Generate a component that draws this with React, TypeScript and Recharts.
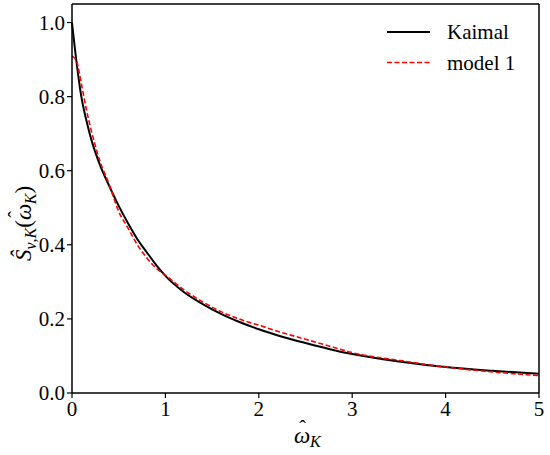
import React from "react";
import { LineChart, Line, XAxis, YAxis, ReferenceLine } from "recharts";

// non-dimensional frequency samples
const omega = [0, 0.05, 0.1, 0.15, 0.2, 0.3, 0.4, 0.5, 0.6, 0.7, 0.8, 0.9, 1.0, 1.2, 1.4, 1.6, 1.8, 2.0, 2.25, 2.5, 2.75, 3.0, 3.5, 4.0, 4.5, 5.0];
const kaimal = [1.0, 0.89, 0.8, 0.74, 0.69, 0.615, 0.558, 0.505, 0.458, 0.415, 0.38, 0.346, 0.316, 0.272, 0.24, 0.213, 0.191, 0.172, 0.152, 0.135, 0.119, 0.105, 0.085, 0.07, 0.06, 0.052];
const model1 = [0.91, 0.895, 0.835, 0.77, 0.715, 0.625, 0.562, 0.49, 0.445, 0.4, 0.365, 0.337, 0.318, 0.278, 0.246, 0.219, 0.199, 0.183, 0.163, 0.145, 0.127, 0.109, 0.088, 0.07, 0.057, 0.047];
const xTicks = [0, 1, 2, 3, 4, 5];
const yTicks = [0, 0.2, 0.4, 0.6, 0.8, 1.0];

const data = omega.map((w, i) => ({ w, kaimal: kaimal[i], model1: model1[i] }));

const FONT = "'Liberation Serif', 'DejaVu Serif', serif";
const tickStyle = { fill: "#000", fontSize: 21, fontFamily: FONT };

function XLabel() {
  return (
    <text x={294} y={443} fontFamily={FONT} fill="#000" fontSize={23} fontStyle="italic">
      {"\u03C9"}
      <tspan dx={-11} dy={-8} fontSize={20} fontStyle="normal">{"\u02C6"}</tspan>
      <tspan dx={4} dy={12} fontSize={16}>K</tspan>
    </text>
  );
}

function YLabel() {
  return (
    <text
      x={0}
      y={0}
      transform="translate(31 213) rotate(-90) translate(-48 0)"
      fontFamily={FONT}
      fill="#000"
      fontSize={23}
    >
      <tspan fontStyle="italic">{"\u015C"}</tspan>
      <tspan fontStyle="italic" fontSize={16} dy={5}>v</tspan>
      <tspan fontSize={16}>,</tspan>
      <tspan fontStyle="italic" fontSize={16}>K</tspan>
      <tspan dy={-5}>(</tspan>
      <tspan fontStyle="italic">{"\u03C9"}</tspan>
      <tspan dx={-14} dy={-8} fontSize={20}>{"\u02C6"}</tspan>
      <tspan fontStyle="italic" fontSize={16} dx={7} dy={13}>K</tspan>
      <tspan dy={-5}>)</tspan>
    </text>
  );
}

const legendRows = [
  { name: "Kaimal", color: "#000", dash: undefined, width: 2 },
  { name: "model 1", color: "#ff0000", dash: "5 2.5", width: 1.6 },
];

function LegendBox() {
  return (
    <svg width={150} height={64} style={{ position: "absolute", left: 385, top: 15 }}>
      {legendRows.map((r, i) => (
        <g key={r.name} transform={`translate(0 ${i * 30.5})`}>
          <line x1={2} x2={45} y1={17} y2={17} stroke={r.color} strokeWidth={r.width} strokeDasharray={r.dash} />
          <text x={62} y={24} fontFamily={FONT} fontSize={21} fill="#000">
            {r.name}
          </text>
        </g>
      ))}
    </svg>
  );
}

export default function App() {
  return (
    <div style={{ position: "absolute", left: 0, top: 0, width: 550, height: 455, background: "#fff" }}>
      <LineChart width={550} height={455} data={data} margin={{ top: 4, right: 11, left: 0, bottom: 0 }}>
        <XAxis
          dataKey="w"
          type="number"
          domain={[0, 5]}
          ticks={xTicks}
          height={62}
          axisLine={{ stroke: "#000", strokeWidth: 1.5 }}
          tickLine={{ stroke: "#000", strokeWidth: 1.2 }}
          tickSize={5}
          tickMargin={3}
          tick={tickStyle}
          label={{ content: () => <XLabel /> }}
        />
        <YAxis
          type="number"
          domain={[0, 1.05]}
          ticks={yTicks}
          width={72}
          allowDataOverflow
          axisLine={{ stroke: "#000", strokeWidth: 1.5 }}
          tickLine={{ stroke: "#000", strokeWidth: 1.2 }}
          tickSize={5}
          tickMargin={2}
          tick={tickStyle}
          tickFormatter={(v: number) => v.toFixed(1)}
          label={{ content: () => <YLabel /> }}
        />
        <ReferenceLine y={1.05} stroke="#000" strokeWidth={1.5} />
        <ReferenceLine x={5} stroke="#000" strokeWidth={1.5} />
        <Line
          type="monotone"
          dataKey="kaimal"
          stroke="#000"
          strokeWidth={2}
          dot={false}
          isAnimationActive={false}
        />
        <Line
          type="monotone"
          dataKey="model1"
          stroke="#ff0000"
          strokeWidth={1.6}
          strokeDasharray="5 2.5"
          dot={false}
          isAnimationActive={false}
        />
      </LineChart>
      <LegendBox />
    </div>
  );
}
